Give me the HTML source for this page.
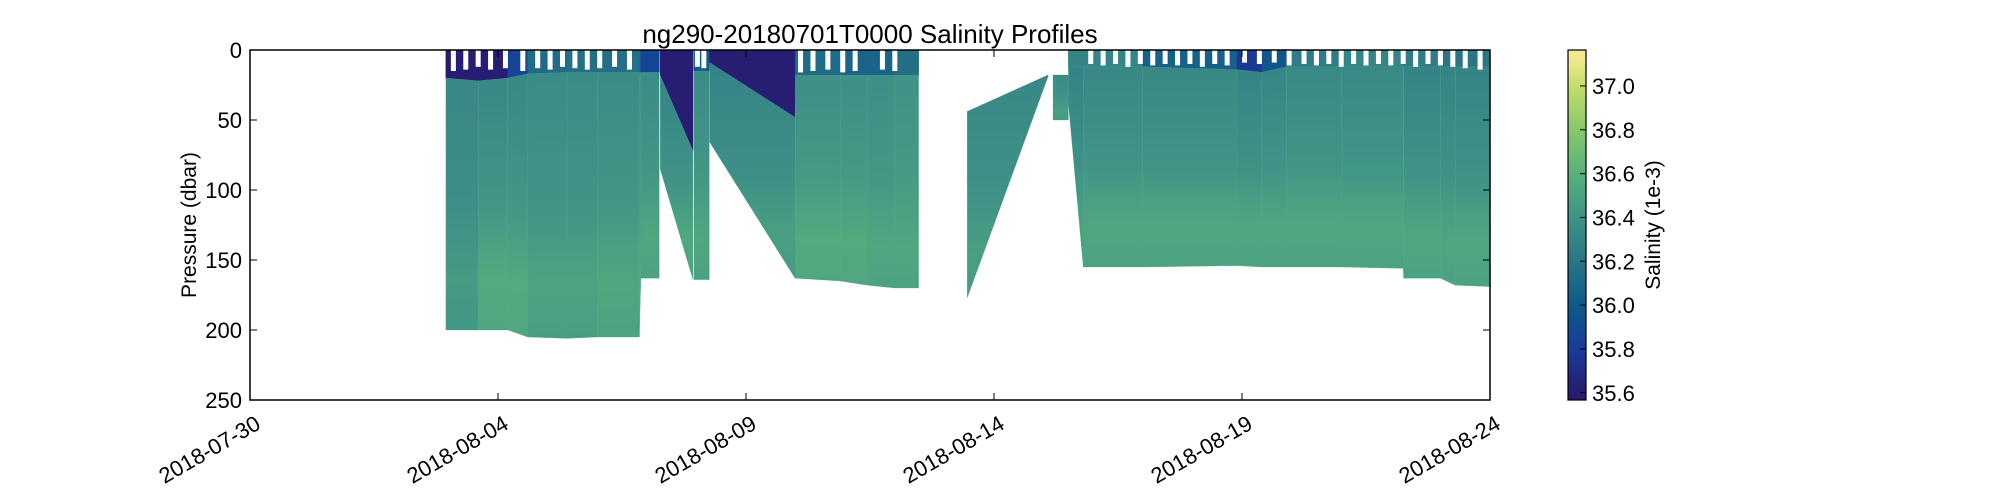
<!DOCTYPE html>
<html><head><meta charset="utf-8"><style>
body{margin:0;background:#fff;width:2000px;height:500px;overflow:hidden}
svg{display:block;font-family:"Liberation Sans",sans-serif}
</style></head><body>
<svg id="chart" width="2000" height="500" viewBox="0 0 2000 500" xmlns="http://www.w3.org/2000/svg">
<defs><linearGradient id="cbgrad" x1="0" y1="1" x2="0" y2="0"></linearGradient><clipPath id="plotclip"><rect x="250" y="50" width="1240" height="350"/></clipPath></defs>
<text x="870" y="43" font-size="26" text-anchor="middle">ng290-20180701T0000 Salinity Profiles</text>
<g id="marks" clip-path="url(#plotclip)"></g>
<g id="notches" clip-path="url(#plotclip)"></g>
<rect x="250" y="50" width="1240" height="350" fill="none" stroke="#000" stroke-width="1.5"/>
<g id="axes"></g>
<text transform="translate(196,225) rotate(-90)" font-size="21" text-anchor="middle">Pressure (dbar)</text>
<rect x="1568" y="50" width="18" height="350" fill="url(#cbgrad)" stroke="#000" stroke-width="1.2"/>
<g id="cbticks"></g>
<text transform="translate(1660,225) rotate(-90)" font-size="21" text-anchor="middle">Salinity (1e-3)</text>
</svg>
<script>
// ---- data ----
const xTickLabels=["2018-07-30","2018-08-04","2018-08-09","2018-08-14","2018-08-19","2018-08-24"];
const xTickDays=[0,5,10,15,20,25];
const yTicks=[0,50,100,150,200,250];
const cbTicks=[35.6,35.8,36.0,36.2,36.4,36.6,36.8,37.0];
const profDay=[3.95,4.6,5.2,5.6,6.4,7.0,7.85, 7.88,8.25, 8.27,8.93,8.95,9.26, 9.27,10.99,11.0,11.9,12.45,13.0,13.48, 14.46,16.09, 16.19,16.5, 16.5,16.8,18.0,19.9,20.4,20.9,22.0,23.25,23.26,24.0,24.3,25.0];
const profTop=[0,0,0,0,0,0,0, 0,0, 0,0,0,0, 0,0,0,0,0,0,0, 44,18, 18,18, 0,0,0,0,0,0,0,0,0,0,0,0];
const profMld=[20,22,20,17,16,16,16, 16,16, 18,72,15,15, 9,48,18,18,18,18,18, 44,18, 18,18, 12,12,12,14,16,12,12,12,12,12,12,12];
const profBot=[200,200,200,205,206,205,205, 163,163, 85,164,164,164, 66,163,163,165,168,170,170, 177,19, 50,50, 38,155,155,154,155,155,155,156,163,163,168,169];
const profSurf=[35.6,35.6,35.6,36.1,36.15,36.15,36.15, 36.1,35.6, 35.6,35.6,36.0,36.0, 35.6,35.6,36.1,36.15,36.0,36.15,36.15, 36.3,36.3, 36.3,36.3, 36.3,36.3,36.3,35.8,35.75,36.2,36.3,36.3,36.2,36.3,36.1,36.3];
const profMid=[36.3,36.35,36.3,36.35,36.35,36.35,36.35, 36.35,36.35, 36.3,36.3,36.35,36.35, 36.3,36.3,36.35,36.4,36.35,36.4,36.4, 36.3,36.35, 36.35,36.35, 36.3,36.3,36.35,36.3,36.3,36.32,36.35,36.32,36.3,36.3,36.3,36.3];
const profDeep=[36.35,36.5,36.55,36.5,36.45,36.5,36.5, 36.5,36.5, 36.5,36.5,36.5,36.5, 36.45,36.45,36.5,36.55,36.5,36.5,36.5, 36.5,36.4, 36.45,36.45, 36.45,36.5,36.5,36.5,36.5,36.5,36.5,36.5,36.5,36.5,36.5,36.5];
const breakAfter=[8,10,12,19,21,23];
const notchDay=[4.05,4.3,4.55,4.8,5.1,5.45,5.75,6.0,6.25,6.5,6.75,7.0,7.3,7.6, 8.97,9.1, 11.05,11.3,11.6,11.9,12.15,12.7,12.95, 16.9,17.15,17.4,17.65,17.9,18.15,18.4,18.65,18.9,19.15,19.4,19.65,20.0,20.3,20.6,20.9,21.2,21.45,21.7,21.95,22.2,22.45,22.7,22.95,23.2,23.45,23.7,23.95,24.2,24.45,24.75];
const notchDepth=[15,14,12,14,13,15,13,14,12,13,14,13,12,14, 12,13, 16,15,14,16,15,14,15, 10,11,10,12,10,11,10,11,10,12,10,11,9,10,9,11,10,11,10,12,10,11,10,11,10,12,10,11,12,13,14];
// ---- scales ----
const X0=250,X1=1490,Y0=50,Y1=400,DMAX=25,PMAX=250,SMIN=35.567,SMAX=37.164;
const xs=d=>X0+d*(X1-X0)/DMAX, ys=p=>Y0+p*(Y1-Y0)/PMAX;
const cstops=[[35.567,[41,24,107]],[35.8,[25,60,154]],[36.0,[14,90,138]],[36.2,[43,117,133]],[36.4,[63,147,135]],[36.6,[88,177,123]],[36.8,[133,200,106]],[37.0,[198,220,108]],[37.164,[253,239,154]]];
function cmap(v){v=Math.max(SMIN,Math.min(SMAX,v));for(let i=0;i<cstops.length-1;i++){const a=cstops[i],b=cstops[i+1];if(v<=b[0]){const t=(v-a[0])/(b[0]-a[0]);return 'rgb('+a[1].map((c,k)=>Math.round(c+(b[1][k]-c)*t)).join(',')+')';}}return 'rgb(253,239,154)';}
const NS='http://www.w3.org/2000/svg',svg=document.getElementById('chart'),defs=svg.querySelector('defs');
function mk(t,a,p){const e=document.createElementNS(NS,t);for(const k in a)e.setAttribute(k,a[k]);p.appendChild(e);return e;}
const cg=document.getElementById('cbgrad');
for(let v=SMIN;v<=SMAX+1e-9;v+=0.04){mk('stop',{offset:((v-SMIN)/(SMAX-SMIN)).toFixed(4),'stop-color':cmap(v)},cg);}
const marks=document.getElementById('marks');let gid=0;
for(let i=0;i<profDay.length-1;i++){
 if(breakAfter.includes(i))continue;
 const j=i+1,xa=xs(profDay[i]),xb=xs(profDay[j]);
 const upper=mk('polygon',{points:`${xa},${ys(profTop[i])} ${xb},${ys(profTop[j])} ${xb},${ys(profMld[j])} ${xa},${ys(profMld[i])}`,fill:cmap((profSurf[i]+profSurf[j])/2),stroke:cmap((profSurf[i]+profSurf[j])/2),'stroke-width':0.6},marks);
 
 
 const g=mk('linearGradient',{id:'lg'+gid,gradientUnits:'userSpaceOnUse',x1:0,x2:0,y1:ys(Math.min(profMld[i],profMld[j])),y2:ys(Math.max(profBot[i],profBot[j]))},defs);
 const sm=(profMid[i]+profMid[j])/2,sd=(profDeep[i]+profDeep[j])/2;
 mk('stop',{offset:0,'stop-color':cmap(sm)},g);mk('stop',{offset:0.5,'stop-color':cmap((sm+sd)/2)},g);mk('stop',{offset:0.8,'stop-color':cmap(sd+0.03)},g);mk('stop',{offset:1,'stop-color':cmap(sd)},g);
 const lower=mk('polygon',{points:`${xa},${ys(profMld[i])} ${xb},${ys(profMld[j])} ${xb},${ys(profBot[j])} ${xa},${ys(profBot[i])}`,fill:`url(#lg${gid})`,stroke:cmap(sd),'stroke-width':0.3},marks);
 
 
 gid++;
}
const notches=document.getElementById('notches');
notchDay.forEach((d,i)=>{const r=mk('rect',{x:xs(d),y:Y0,width:5,height:ys(notchDepth[i])-Y0,fill:'#fff'},notches);
 
 });
const ax=document.getElementById('axes');
xTickDays.forEach((d,i)=>{const x=xs(d);
 mk('line',{x1:x,x2:x,y1:Y1,y2:Y1-7,stroke:'#000'},ax);mk('line',{x1:x,x2:x,y1:Y0,y2:Y0+7,stroke:'#000'},ax);
 const t=mk('text',{transform:`translate(${x+4},${Y1+14}) rotate(-30)`,'font-size':22,'text-anchor':'end','dominant-baseline':'hanging'},ax);t.textContent=xTickLabels[i];
 
 });
yTicks.forEach(p=>{const y=ys(p);
 mk('line',{x1:X0,x2:X0+7,y1:y,y2:y,stroke:'#000'},ax);mk('line',{x1:X1,x2:X1-7,y1:y,y2:y,stroke:'#000'},ax);
 const t=mk('text',{x:X0-8,y:y+8,'font-size':22,'text-anchor':'end'},ax);t.textContent=p;
 
 });
const cbt=document.getElementById('cbticks');
cbTicks.forEach(v=>{const y=Y0+(SMAX-v)/(SMAX-SMIN)*(Y1-Y0);
 mk('line',{x1:1580,x2:1586,y1:y,y2:y,stroke:'#000'},cbt);
 const t=mk('text',{x:1592,y:y+8,'font-size':22},cbt);t.textContent=v.toFixed(1);
 
 });
</script>
</body></html>
